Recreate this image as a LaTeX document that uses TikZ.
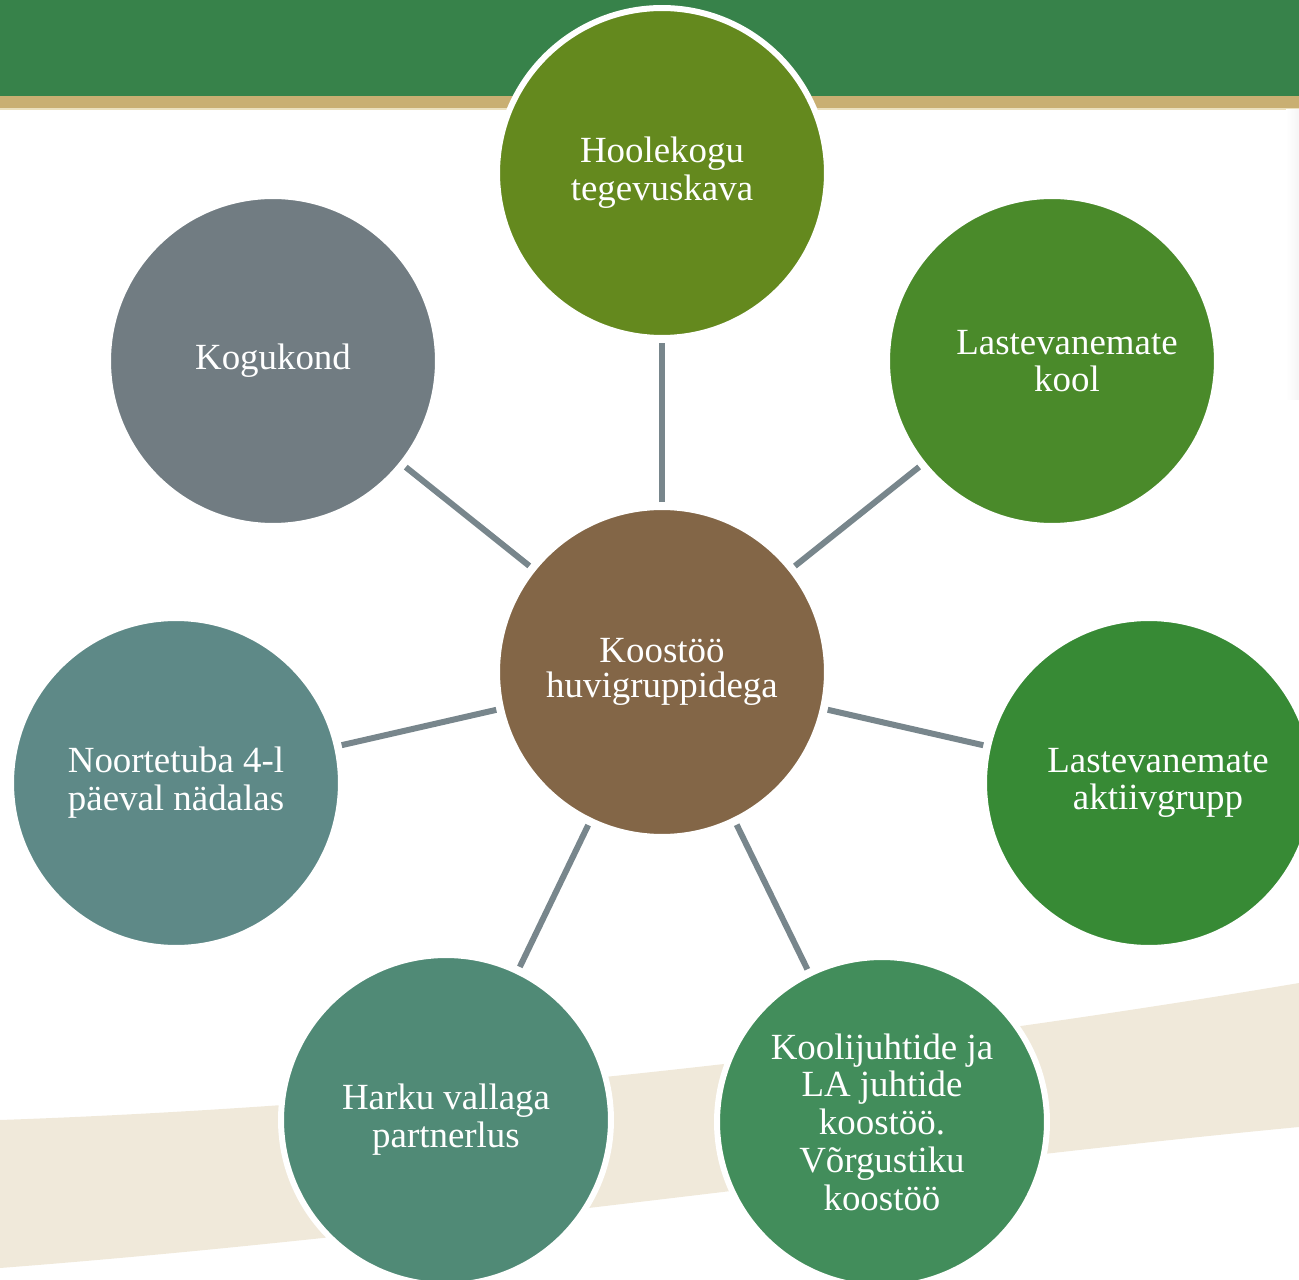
\documentclass[tikz,border=0pt]{standalone}
\usepackage{fontspec}
\setmainfont{Liberation Serif}
\definecolor{bandgreen}{HTML}{37824A}
\definecolor{bandtan}{HTML}{C9AF72}
\definecolor{bandlight}{HTML}{EBE0BE}
\definecolor{swoosh}{HTML}{F0E9DA}
\definecolor{spokegray}{HTML}{78868C}
\definecolor{hubbrown}{HTML}{836647}
\definecolor{olivegreen}{HTML}{64891E}
\definecolor{leafgreen}{HTML}{4A8A2A}
\definecolor{grassgreen}{HTML}{378A35}
\definecolor{forestgreen}{HTML}{428D5B}
\definecolor{seagreen}{HTML}{508A76}
\definecolor{tealgray}{HTML}{5E8987}
\definecolor{slategray}{HTML}{717C82}
\begin{document}
\begin{tikzpicture}[x=0.02cm,y=-0.02cm]
    \tikzstyle{bubble}=[circle,draw=white,line width=0.12cm,minimum size=6.6cm,inner sep=0pt,align=center,text=white,font=\fontsize{21}{21.5}\selectfont]
    \tikzstyle{spoke}=[draw=spokegray,line width=0.12cm,shorten <=0.04cm,shorten >=0.04cm]
    \useasboundingbox (0,0) rectangle (1299,1280);
    % background
    \fill[bandgreen] (0,0) rectangle (1299,96);
    \fill[bandtan] (0,96) rectangle (1299,108);
    \fill[bandlight] (0,108) rectangle (1299,110);
    \shade[left color=white,right color=black!4] (1286,110) rectangle (1299,400);
    \fill[swoosh] (0,1120) .. controls (430,1105) and (900,1050) .. (1299,983)
      -- (1299,1127) .. controls (900,1165) and (430,1235) .. (0,1268) -- cycle;
    % circles
    \node[bubble,fill=hubbrown,font=\fontsize{21}{19.5}\selectfont] (hub) at (662,672) {Koostöö\\huvigruppidega};
    \node[bubble,fill=olivegreen] (hoolekogu) at (662,173) {Hoolekogu\\tegevuskava};
    \node[bubble,fill=leafgreen] (kool) at (1052,361) {\hspace*{0.6cm}Lastevanemate\\\hspace*{0.6cm}kool};
    \node[bubble,fill=grassgreen] (aktiiv) at (1149,783) {\hspace*{0.36cm}Lastevanemate\\\hspace*{0.36cm}aktiivgrupp};
    \node[bubble,fill=forestgreen] (koolijuhid) at (882,1122) {Koolijuhtide ja\\LA juhtide\\koostöö.\\Võrgustiku\\koostöö};
    \node[bubble,fill=seagreen] (harku) at (446,1120) {Harku vallaga\\partnerlus};
    \node[bubble,fill=tealgray] (noored) at (176,783) {Noortetuba 4-l\\päeval nädalas};
    \node[bubble,fill=slategray] (kogukond) at (273,361) {Kogukond};
    % spokes
    \foreach \n in {hoolekogu,kool,aktiiv,koolijuhid,harku,noored,kogukond}
      \draw[spoke] (hub) -- (\n);
\end{tikzpicture}
\end{document}
